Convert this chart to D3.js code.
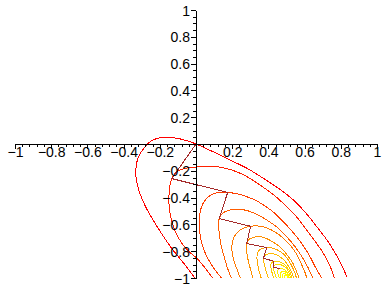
<!DOCTYPE html>
<html><head><meta charset="utf-8">
<script src="https://cdn.jsdelivr.net/npm/d3@7"></script>
<style>html,body{margin:0;padding:0;background:#fff;}svg{display:block;}</style>
</head><body>
<svg id="chart" width="388" height="288"></svg>
<script>
// ---- data ----
const xTickLabels = [-1, -0.8, -0.6, -0.4, -0.2, 0.2, 0.4, 0.6, 0.8, 1];
const yTickLabels = [-1, -0.8, -0.6, -0.4, -0.2, 0.2, 0.4, 0.6, 0.8, 1];

// steepest-ascent iterates (brown zigzag)
const pathX = [0, -0.134, 0.175, 0.128, 0.302, 0.28, 0.39, 0.373, 0.43, 0.428, 0.462];
const pathY = [0, -0.258, -0.362, -0.557, -0.614, -0.743, -0.773, -0.853, -0.875, -0.918, -0.93];

const contour1 = [[-0.006,-1.0],[-0.062,-0.9],[-0.136,-0.776],[-0.21,-0.627],[-0.284,-0.453],[-0.325,-0.30],[-0.333,-0.2],[-0.322,-0.11],[-0.29,-0.035],[-0.245,0.025],[-0.182,0.05],[-0.118,0.045],[-0.053,0.026],[0,0],[0.09,-0.055],[0.187,-0.119],[0.28,-0.18],[0.372,-0.256],[0.46,-0.335],[0.538,-0.418],[0.61,-0.52],[0.667,-0.617],[0.72,-0.71],[0.759,-0.791],[0.8,-0.89],[0.833,-0.99]];
const contour2 = [[0.092,-1.0],[0.05,-0.925],[0.004,-0.851],[-0.041,-0.801],[-0.097,-0.701],[-0.134,-0.577],[-0.149,-0.453],[-0.147,-0.341],[-0.134,-0.258],[-0.11,-0.212],[-0.069,-0.184],[0,-0.172],[0.05,-0.166],[0.1,-0.167],[0.16,-0.18],[0.224,-0.207],[0.29,-0.25],[0.353,-0.306],[0.42,-0.37],[0.482,-0.443],[0.55,-0.535],[0.612,-0.642],[0.66,-0.73],[0.704,-0.816],[0.74,-0.91],[0.765,-1.0]];
const contour3 = [[0.141,-1.0],[0.1,-0.93],[0.06,-0.84],[0.034,-0.751],[0.02,-0.65],[0.019,-0.56],[0.028,-0.48],[0.05,-0.42],[0.085,-0.378],[0.13,-0.36],[0.175,-0.362],[0.23,-0.372],[0.279,-0.393],[0.33,-0.42],[0.372,-0.455],[0.42,-0.5],[0.464,-0.555],[0.51,-0.62],[0.556,-0.692],[0.595,-0.765],[0.63,-0.841],[0.66,-0.92],[0.695,-1.0]];
const contour4 = [[0.195,-1.0],[0.175,-0.93],[0.155,-0.84],[0.138,-0.75],[0.128,-0.66],[0.125,-0.6],[0.128,-0.557],[0.14,-0.525],[0.165,-0.502],[0.2,-0.49],[0.24,-0.487],[0.29,-0.5],[0.344,-0.53],[0.4,-0.575],[0.455,-0.629],[0.5,-0.69],[0.547,-0.766],[0.585,-0.84],[0.618,-0.92],[0.645,-1.0]];
const contour5 = [[0.245,-1.0],[0.225,-0.93],[0.205,-0.85],[0.198,-0.78],[0.205,-0.71],[0.225,-0.665],[0.255,-0.632],[0.302,-0.614],[0.345,-0.612],[0.39,-0.625],[0.44,-0.66],[0.48,-0.7],[0.52,-0.755],[0.555,-0.82],[0.58,-0.89],[0.6,-0.95],[0.612,-1.0]];
const contour6 = [[0.315,-1.0],[0.3,-0.93],[0.287,-0.86],[0.28,-0.8],[0.28,-0.743],[0.29,-0.715],[0.31,-0.7],[0.345,-0.69],[0.38,-0.7],[0.43,-0.735],[0.47,-0.775],[0.505,-0.83],[0.535,-0.89],[0.555,-0.95],[0.57,-1.0]];
const contour7 = [[0.36,-1.0],[0.345,-0.93],[0.337,-0.86],[0.34,-0.81],[0.355,-0.785],[0.39,-0.773],[0.43,-0.78],[0.468,-0.805],[0.5,-0.845],[0.525,-0.9],[0.543,-0.95],[0.555,-1.0]];
const contour8 = [[0.4,-1.0],[0.385,-0.94],[0.375,-0.88],[0.373,-0.853],[0.382,-0.83],[0.405,-0.818],[0.435,-0.822],[0.468,-0.845],[0.495,-0.88],[0.518,-0.93],[0.532,-0.97],[0.54,-1.0]];
const contour9 = [[0.43,-1.0],[0.418,-0.95],[0.413,-0.905],[0.42,-0.883],[0.43,-0.875],[0.455,-0.876],[0.485,-0.895],[0.508,-0.93],[0.522,-0.965],[0.53,-1.0]];
const contour10 = [[0.445,-1.0],[0.433,-0.955],[0.428,-0.918],[0.437,-0.903],[0.455,-0.898],[0.48,-0.907],[0.5,-0.93],[0.513,-0.96],[0.522,-1.0]];
const contour11 = [[0.46,-1.0],[0.452,-0.965],[0.453,-0.94],[0.462,-0.93],[0.48,-0.932],[0.498,-0.948],[0.51,-0.975],[0.516,-1.0]];
const contour12 = [[0.47,-1.0],[0.466,-0.97],[0.475,-0.953],[0.49,-0.952],[0.503,-0.965],[0.51,-0.985],[0.512,-1.0]];
const contour13 = [[0.48,-1.0],[0.478,-0.978],[0.488,-0.965],[0.5,-0.972],[0.507,-0.99],[0.508,-1.0]];
const contour14 = [[0.489,-1.0],[0.489,-0.985],[0.497,-0.977],[0.503,-0.988],[0.505,-1.0]];

const contours = [contour1, contour2, contour3, contour4, contour5, contour6, contour7,
  contour8, contour9, contour10, contour11, contour12, contour13, contour14];

// ---- drawing ----
const svg = d3.select("#chart");
const x = d3.scaleLinear().domain([-1, 1]).range([15, 377]);
const y = d3.scaleLinear().domain([-1, 1]).range([278, 10]);

const level = d3.scaleLinear().domain([0, contours.length - 1]).range([0, 1]);
const ramp = d3.interpolateRgb("#ff0000", "#ffff00");
const colorOf = i => ramp(1 - Math.pow(1 - level(i), 1.7));

const line = d3.line().x(d => x(d[0])).y(d => y(d[1])).curve(d3.curveCatmullRom.alpha(0.5));

svg.append("g").selectAll("path").data(contours).join("path")
  .attr("d", line)
  .attr("fill", "none")
  .attr("stroke", (d, i) => colorOf(i))
  .attr("stroke-width", 1)
  .attr("shape-rendering", "crispEdges");

const iterPts = pathX.map((v, i) => [v, pathY[i]]);
svg.append("path")
  .attr("d", d3.line().x(d => x(d[0])).y(d => y(d[1]))(iterPts))
  .attr("fill", "none")
  .attr("stroke", "#a52a2a")
  .attr("stroke-width", 1)
  .attr("shape-rendering", "crispEdges");

const fmt = v => (v < 0 ? "\u2212" : "") + String(Math.abs(v));
const font = "'Liberation Sans', Arial, Helvetica, sans-serif";

// x axis
const gx = svg.append("g").attr("transform", `translate(0,${y(0)})`);
gx.call(d3.axisBottom(x).tickValues(d3.range(-1, 1.0001, 0.04)).tickSize(3).tickSizeOuter(0).tickFormat(""));
const gx2 = svg.append("g").attr("transform", `translate(0,${y(0)})`);
gx2.call(d3.axisBottom(x).tickValues(xTickLabels).tickSize(5).tickSizeOuter(0).tickPadding(0).tickFormat(fmt));
// y axis
const gy = svg.append("g").attr("transform", `translate(${x(0)},0)`);
gy.call(d3.axisLeft(y).tickValues(d3.range(-1, 1.0001, 0.05)).tickSize(3).tickSizeOuter(0).tickFormat(""));
const gy2 = svg.append("g").attr("transform", `translate(${x(0)},0)`);
gy2.call(d3.axisLeft(y).tickValues(yTickLabels).tickSize(5).tickSizeOuter(0).tickPadding(1).tickFormat(fmt));

svg.selectAll(".domain, .tick line").attr("stroke", "#000").attr("shape-rendering", "crispEdges");
svg.selectAll(".tick text").attr("fill", "#000").style("font-family", font).style("font-size", "14px");
gx2.selectAll(".tick text").attr("y", 3).attr("dy", "0.71em");
gy2.selectAll(".tick text").attr("dy", "0.36em");
</script>
</body></html>
